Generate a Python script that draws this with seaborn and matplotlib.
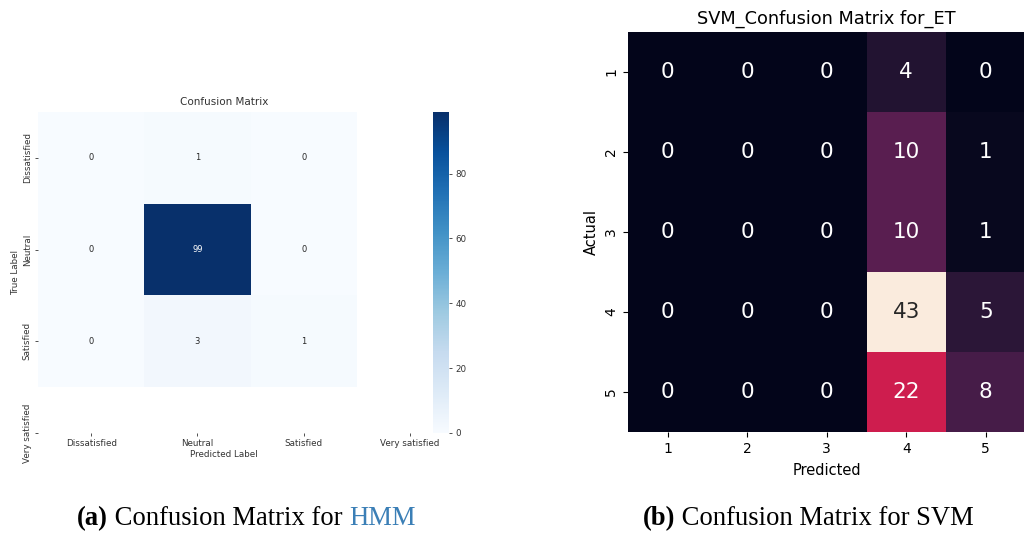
import numpy as np
import matplotlib
matplotlib.use("Agg")
import matplotlib.pyplot as plt
import seaborn as sns

# ---- data ----
hmm_labels = ["Dissatisfied", "Neutral", "Satisfied", "Very satisfied"]
hmm_row_dissatisfied = [0, 1, 0]
hmm_row_neutral = [0, 99, 0]
hmm_row_satisfied = [0, 3, 1]

svm_labels = ["1", "2", "3", "4", "5"]
svm_row1 = [0, 0, 0, 4, 0]
svm_row2 = [0, 0, 0, 10, 1]
svm_row3 = [0, 0, 0, 10, 1]
svm_row4 = [0, 0, 0, 43, 5]
svm_row5 = [0, 0, 0, 22, 8]

hmm_cm = np.array([hmm_row_dissatisfied, hmm_row_neutral, hmm_row_satisfied])
svm_cm = np.array([svm_row1, svm_row2, svm_row3, svm_row4, svm_row5])

W, H = 1024, 533
fig = plt.figure(figsize=(W / 100, H / 100), dpi=100)
fig.patch.set_facecolor("white")

def fx(px):
    return px / W

def fy(px_from_top):
    return 1 - px_from_top / H

# ---- left: HMM ----
gray = "#333333"
ax1 = fig.add_axes([fx(38), fy(433), fx(372), (433 - 112) / H])
cax1 = fig.add_axes([fx(433), fy(433), fx(16), (433 - 112) / H])
sns.heatmap(hmm_cm, annot=True, fmt="d", cmap="Blues", ax=ax1, cbar_ax=cax1,
            linewidths=0, annot_kws={"size": 6})
ax1.set_xlim(0, 3.5)
ax1.set_ylim(3.5, 0)
ax1.set_xticks([0.5, 1.5, 2.5, 3.5])
ax1.set_xticklabels(hmm_labels, fontsize=6.3, color=gray, rotation=0)
ax1.set_yticks([0.5, 1.5, 2.5, 3.5])
ax1.set_yticklabels(hmm_labels, fontsize=6.3, color=gray, rotation=90, va="center")
ax1.tick_params(length=2.5, width=0.6, color=gray, pad=2)
ax1.set_xlabel("Predicted Label", fontsize=6.3, color=gray, labelpad=1)
ax1.set_ylabel("True Label", fontsize=6.3, color=gray, labelpad=2)
ax1.set_title("Confusion Matrix", fontsize=7.5, color=gray, pad=5)
cax1.tick_params(labelsize=6.3, labelcolor=gray, length=2.5, width=0.6, color=gray, pad=2)
cax1.set_yticks([0, 20, 40, 60, 80])

# ---- right: SVM ----
ax2 = fig.add_axes([fx(628), fy(432), fx(397.5), (432 - 32) / H])
sns.heatmap(svm_cm, annot=True, fmt="d", cbar=False, ax=ax2,
            annot_kws={"size": 15.5})
ax2.set_xticklabels(svm_labels, fontsize=10, rotation=0)
ax2.set_yticklabels(svm_labels, fontsize=10, rotation=90, va="center")
ax2.set_xlabel("Predicted", fontsize=10.5, labelpad=5)
ax2.set_ylabel("Actual", fontsize=10.5)
ax2.set_title("SVM_Confusion Matrix for_ET", fontsize=12.8)

# ---- captions ----
def chain(x_px, parts, size=19.2):
    renderer = fig.canvas.get_renderer()
    x = fx(x_px)
    for text, weight, color in parts:
        t = fig.text(x, fy(525), text, fontsize=size, family="Liberation Serif",
                     fontweight=weight, color=color, va="baseline", ha="left")
        bb = t.get_window_extent(renderer=renderer)
        x = x + bb.width / W

chain(77, [("(a)", "bold", "black"), (" Confusion Matrix for ", "normal", "black"),
           ("HMM", "normal", "#3b7fb6")])
chain(643, [("(b)", "bold", "black"), (" Confusion Matrix for SVM", "normal", "black")])

fig.savefig("out.png", dpi=100)
